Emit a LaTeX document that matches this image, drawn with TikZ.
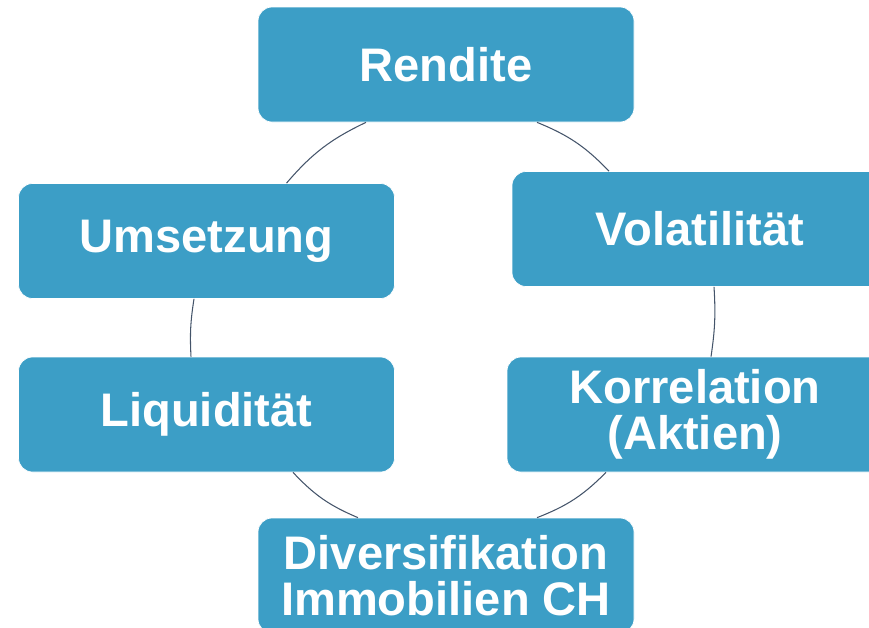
\documentclass[tikz,border=0pt]{standalone}
\usepackage{fontspec}
\setmainfont{Liberation Sans}
\usetikzlibrary{calc}
\definecolor{cycblue}{RGB}{60,158,198}
\definecolor{cycline}{RGB}{68,84,106}

\begin{document}
\begin{tikzpicture}[x=0.2mm, y=-0.2mm,
    box/.style={rounded corners=2.8mm, fill=cycblue, draw=white, line width=0.4pt, text=white,
      minimum width=75.2mm, minimum height=23mm, inner sep=0pt, align=center,
      font=\fontsize{26.8}{26.5}\selectfont\bfseries},
    cyc/.style={draw=cycline, line width=0.6pt}]
  \clip (0,0) rectangle (869,627);
  % the six boxes
  \node[box] (rendite) at (446,64.5) {Rendite};
  \node[box] (umsetzung) at (206.5,241) {Umsetzung};
  \node[box] (liquid) at (206.5,414.5) {Liquidität};
  \node[box] (divers) at (446,575.5) {Diversifikation\\Immobilien CH};
  \node[box] (korrel) at (695,414.5) {Korrelation\\(Aktien)};
  \node[box] (volatil) at (700,229) {Volatilität};
  % arcs of the cycle
  \draw[cyc] ($(rendite.south)+(-80,0)$) to[bend right=12] ($(umsetzung.north)+(80,0)$);
  \draw[cyc] ($(umsetzung.south)+(-12.5,0)$) to[bend right=6] ($(liquid.north)+(-15.5,0)$);
  \draw[cyc] ($(liquid.south)+(86.5,0)$) to[bend right=12] ($(divers.north)+(-88,0)$);
  \draw[cyc] ($(divers.north)+(91,0)$) to[bend right=12] ($(korrel.south)+(-89,0)$);
  \draw[cyc] ($(korrel.north)+(16,0)$) to[bend right=6] ($(volatil.south)+(14,0)$);
  \draw[cyc] ($(volatil.north)+(-91,0)$) to[bend right=12] ($(rendite.south)+(91,0)$);
\end{tikzpicture}
\end{document}
